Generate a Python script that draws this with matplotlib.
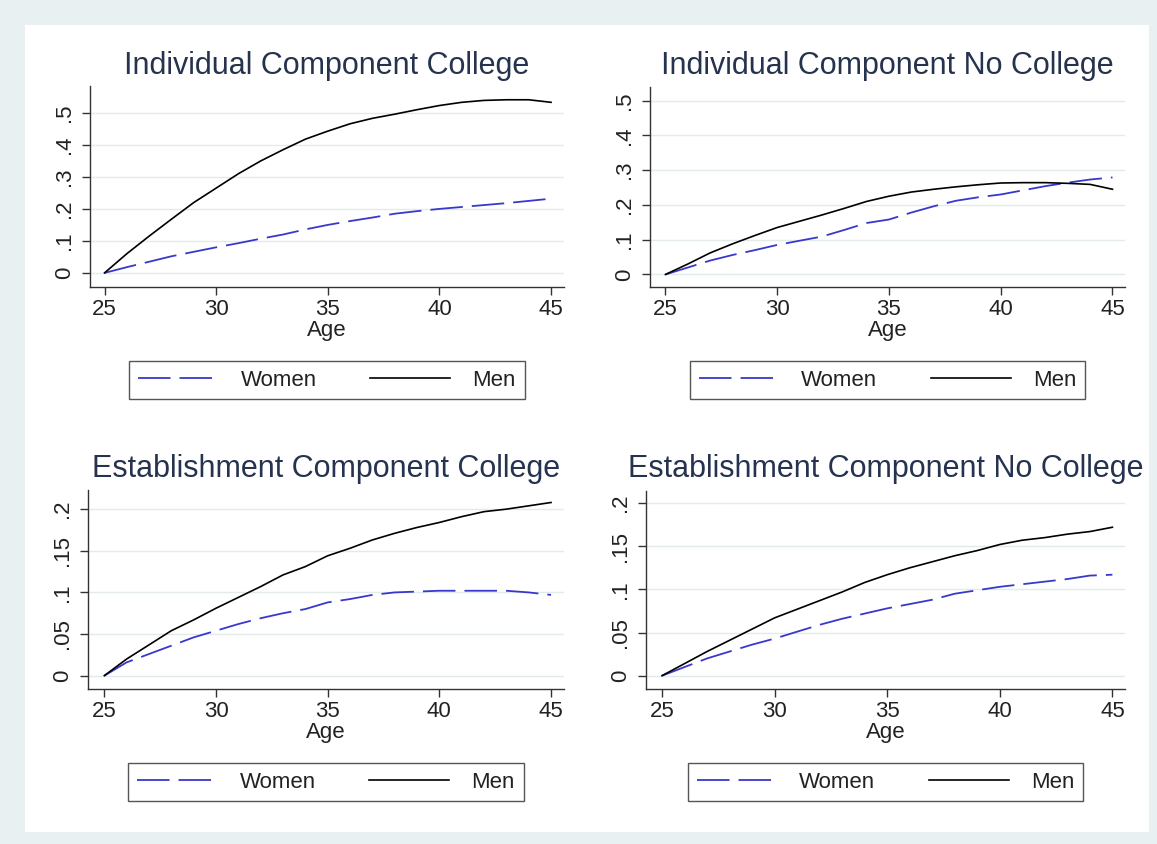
import numpy as np
import matplotlib
matplotlib.use("Agg")
import matplotlib.pyplot as plt
from matplotlib.patches import Rectangle

plt.rcParams['font.family'] = ['Liberation Sans', 'DejaVu Sans']

# ---------------- data ----------------
age = list(range(25, 46))

ind_col_men = [0, 0.06, 0.115, 0.168, 0.22, 0.265, 0.31, 0.35, 0.385, 0.418, 0.443,
               0.466, 0.483, 0.496, 0.51, 0.523, 0.533, 0.539, 0.541, 0.541, 0.533]
ind_col_women = [0, 0.018, 0.035, 0.052, 0.066, 0.08, 0.093, 0.107, 0.12, 0.136, 0.15,
                 0.162, 0.173, 0.185, 0.193, 0.2, 0.206, 0.212, 0.218, 0.225, 0.232]

ind_nocol_men = [0, 0.03, 0.062, 0.088, 0.112, 0.135, 0.153, 0.171, 0.19, 0.21, 0.225,
                 0.237, 0.245, 0.252, 0.258, 0.263, 0.264, 0.264, 0.262, 0.259, 0.245]
ind_nocol_women = [0, 0.02, 0.04, 0.056, 0.07, 0.085, 0.097, 0.109, 0.128, 0.148, 0.158,
                   0.178, 0.196, 0.212, 0.222, 0.23, 0.242, 0.254, 0.264, 0.273, 0.279]

est_col_men = [0, 0.02, 0.037, 0.054, 0.067, 0.081, 0.094, 0.107, 0.121, 0.131, 0.144,
               0.153, 0.163, 0.171, 0.178, 0.184, 0.191, 0.197, 0.2, 0.204, 0.208]
est_col_women = [0, 0.016, 0.026, 0.036, 0.046, 0.054, 0.062, 0.069, 0.075, 0.08, 0.088,
                 0.092, 0.097, 0.1, 0.101, 0.102, 0.102, 0.102, 0.102, 0.1, 0.097]

est_nocol_men = [0, 0.014, 0.028, 0.041, 0.054, 0.067, 0.077, 0.087, 0.097, 0.108, 0.117,
                 0.125, 0.132, 0.139, 0.145, 0.152, 0.157, 0.16, 0.164, 0.167, 0.172]
est_nocol_women = [0, 0.01, 0.02, 0.028, 0.036, 0.043, 0.051, 0.059, 0.066, 0.072, 0.078,
                   0.083, 0.088, 0.095, 0.099, 0.103, 0.106, 0.109, 0.112, 0.116, 0.117]

titles = ["Individual Component College", "Individual Component No College",
          "Establishment Component College", "Establishment Component No College"]
xticks = [25, 30, 35, 40, 45]
yticks_ind = [0, 0.1, 0.2, 0.3, 0.4, 0.5]
ylabels_ind = ["0", ".1", ".2", ".3", ".4", ".5"]
yticks_est = [0, 0.05, 0.1, 0.15, 0.2]
ylabels_est = ["0", ".05", ".1", ".15", ".2"]

# ---------------- layout ----------------
W, H = 1157, 844
fig = plt.figure(figsize=(W / 100, H / 100), dpi=100)
fig.patch.set_facecolor('#e8f0f2')
fig.add_artist(Rectangle((25 / W, 1 - 832 / H), (1149 - 25) / W, (832 - 25) / H,
                         transform=fig.transFigure, facecolor='white',
                         edgecolor='none', zorder=-10))

# left, right, top, bottom in pixels; ylim; title baseline; legend centre y
panels = [
    dict(box=(90, 564, 86, 287), ylim=(-0.044, 0.584), xlim=(24.35, 45.58), tb=74, ly=380,
         men=ind_col_men, women=ind_col_women, yt=yticks_ind, yl=ylabels_ind),
    dict(box=(650, 1125, 87, 287), ylim=(-0.036, 0.539), xlim=(24.31, 45.56), tb=74, ly=380,
         men=ind_nocol_men, women=ind_nocol_women, yt=yticks_ind, yl=ylabels_ind),
    dict(box=(88, 564, 490, 689), ylim=(-0.016, 0.223), xlim=(24.27, 45.58), tb=477, ly=782,
         men=est_col_men, women=est_col_women, yt=yticks_est, yl=ylabels_est),
    dict(box=(646, 1125, 491, 689), ylim=(-0.0154, 0.214), xlim=(24.29, 45.56), tb=477, ly=782,
         men=est_nocol_men, women=est_nocol_women, yt=yticks_est, yl=ylabels_est),
]

axis_col = '#333333'
women_col = '#3838cc'

for title, p in zip(titles, panels):
    l, r, t, b = p['box']
    ax = fig.add_axes([l / W, 1 - b / H, (r - l) / W, (b - t) / H])
    ax.set_facecolor('white')
    ax.plot(age, p['women'], color=women_col, lw=1.3, dashes=(18, 5), label='Women')
    ax.plot(age, p['men'], color='black', lw=1.2, label='Men')
    ax.set_xlim(p['xlim'])
    ax.set_ylim(p['ylim'])
    ax.set_xticks(xticks)
    ax.set_yticks(p['yt'])
    ax.set_yticklabels(p['yl'], rotation=90, va='center')
    for y in p['yt']:
        ax.axhline(y, color='#e3ebea', lw=1.0, zorder=0)
    for s in ['top', 'right']:
        ax.spines[s].set_visible(False)
    for s in ['left', 'bottom']:
        ax.spines[s].set_color(axis_col)
        ax.spines[s].set_linewidth(1.0)
    ax.tick_params(direction='out', length=5.8, width=1.0, color=axis_col,
                   labelsize=16, labelcolor='#222222', pad=3)
    ax.tick_params(axis='y', pad=5)
    ax.set_xlabel('Age', fontsize=16, color='#222222', labelpad=0)

    cx = (l + r) / 2
    fig.text(cx / W, 1 - p['tb'] / H, title, ha='center', va='baseline',
             fontsize=22, color='#26334f')

    leg = ax.legend(loc='center', bbox_to_anchor=(cx / W, 1 - p['ly'] / H),
                    bbox_transform=fig.transFigure, ncol=2, fontsize=16,
                    handlelength=3.6, handletextpad=1.0, columnspacing=2.4,
                    borderpad=0.4, fancybox=False, framealpha=1)
    leg.get_frame().set_edgecolor('#555555')
    leg.get_frame().set_linewidth(1.0)
    for txt in leg.get_texts():
        txt.set_color('#222222')

fig.savefig('out.png', dpi=100, facecolor=fig.get_facecolor())
